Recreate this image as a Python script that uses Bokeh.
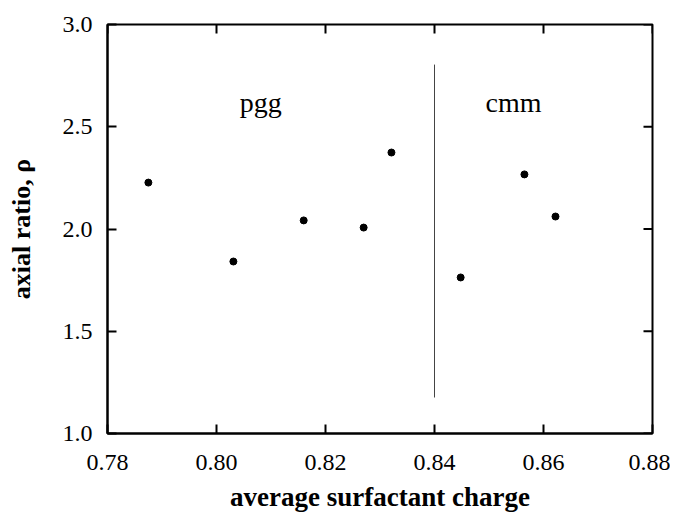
from bokeh.plotting import figure
from bokeh.models import FixedTicker, Range1d, Label
from bokeh.embed import file_html
from bokeh.resources import INLINE

# data
charge = [0.7875, 0.8031, 0.8160, 0.8270, 0.8321, 0.8448, 0.8565, 0.8622]
ratio = [2.227, 1.841, 2.042, 2.007, 2.374, 1.763, 2.267, 2.061]
boundary_x = [0.84, 0.84]
boundary_y = [1.176, 2.804]
phase_names = ["pgg", "cmm"]
phase_x = [0.8081, 0.8545]
phase_y = [2.619, 2.619]
x_ticks = [0.78, 0.80, 0.82, 0.84, 0.86, 0.88]
x_tick_labels = ["0.78", "0.80", "0.82", "0.84", "0.86", "0.88"]
y_ticks = [1.0, 1.5, 2.0, 2.5, 3.0]
y_tick_labels = ["1.0", "1.5", "2.0", "2.5", "3.0"]
x_title = "average surfactant charge"
y_title = "axial ratio, ρ"

SERIF = "Liberation Serif"
X0, X1 = 0.78, 0.88
Y0, Y1 = 1.0, 3.0
FW, FH = 545, 409
TICK = 9

p = figure(frame_width=FW, frame_height=FH,
           x_range=Range1d(X0, X1), y_range=Range1d(Y0, Y1),
           output_backend="svg", toolbar_location=None,
           min_border_left=107, min_border_top=24, min_border_right=18, min_border_bottom=72)
p.background_fill_color = "white"
p.border_fill_color = "white"
p.grid.visible = False
p.outline_line_color = "black"
p.outline_line_width = 2

def style_axis(ax, ticks, labels):
    ax.ticker = FixedTicker(ticks=ticks)
    ax.major_label_overrides = {t: l for t, l in zip(ticks, labels)}
    ax.minor_tick_line_color = None
    ax.major_tick_in = TICK
    ax.major_tick_out = 0
    ax.major_tick_line_width = 2
    ax.major_tick_line_color = "black"
    ax.axis_line_width = 2
    ax.axis_line_color = "black"
    ax.major_label_text_font = SERIF
    ax.major_label_text_color = "black"
    ax.major_label_text_font_size = "24px"
    ax.axis_label_text_font = SERIF
    ax.axis_label_text_font_style = "bold"
    ax.axis_label_text_color = "black"

style_axis(p.xaxis[0], x_ticks, x_tick_labels)
style_axis(p.yaxis[0], y_ticks, y_tick_labels)
p.xaxis[0].major_label_standoff = 21
p.yaxis[0].major_label_standoff = 15

p.xaxis[0].axis_label = x_title
p.xaxis[0].axis_label_text_font_size = "27px"
p.xaxis[0].axis_label_standoff = 9

p.yaxis[0].axis_label = y_title
p.yaxis[0].axis_label_text_font_size = "26px"
p.yaxis[0].axis_label_standoff = 24

# mirrored inward ticks on the top and right edges
dy = (Y1 - Y0) * TICK / FH
dx = (X1 - X0) * TICK / FW
p.segment(x0=x_ticks, y0=[Y1] * len(x_ticks), x1=x_ticks, y1=[Y1 - dy] * len(x_ticks),
          line_color="black", line_width=2)
p.segment(x0=[X1] * len(y_ticks), y0=y_ticks, x1=[X1 - dx] * len(y_ticks), y1=y_ticks,
          line_color="black", line_width=2)

p.line(boundary_x, boundary_y, line_color="#444444", line_width=1)
p.scatter(charge, ratio, size=7, color="black")

for name, x, y in zip(phase_names, phase_x, phase_y):
    p.add_layout(Label(x=x, y=y, text=name, text_font=SERIF, text_font_size="28px",
                       text_align="center", text_baseline="alphabetic", text_color="black"))

open("out.html", "w").write(file_html(p, INLINE))
